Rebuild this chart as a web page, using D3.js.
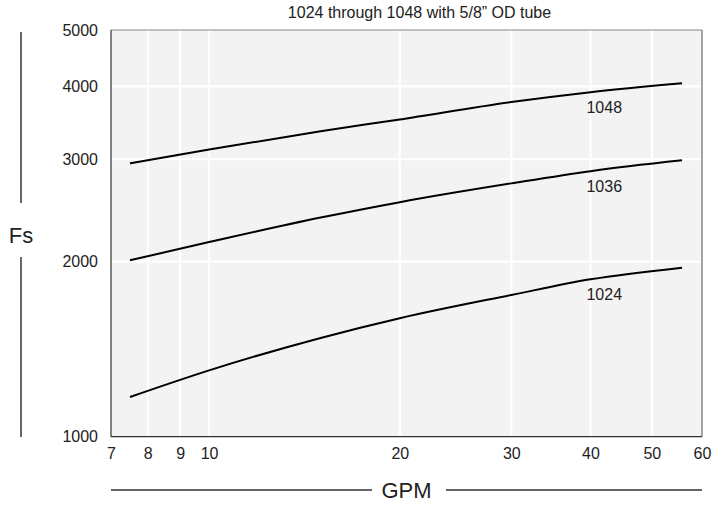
<!DOCTYPE html>
<html>
<head>
<meta charset="utf-8">
<script src="https://cdn.jsdelivr.net/npm/d3@7"></script>
<style>
  html, body { margin: 0; padding: 0; background: #fff; }
  svg { display: block; }
  text { font-family: "Liberation Sans", Arial, sans-serif; fill: #222; }
</style>
</head>
<body>
<svg id="chart" width="714" height="506"></svg>
<script>
const title = "1024 through 1048 with 5/8\u201D OD tube";
const xLabel = "GPM";
const yLabel = "Fs";
const xTicks = [7, 8, 9, 10, 20, 30, 40, 50, 60];
const yTicks = [1000, 2000, 3000, 4000, 5000];
const xGrid = [8, 9, 10, 20, 30, 40, 50];
const yGrid = [2000, 3000, 4000];
const gpm = [7.5, 10, 15, 20, 30, 40, 55.8];
const fs1048 = [2950, 3115, 3350, 3510, 3760, 3910, 4050];
const fs1036 = [2010, 2160, 2380, 2530, 2725, 2860, 2985];
const fs1024 = [1170, 1300, 1478, 1598, 1752, 1864, 1952];
const seriesNames = ["1048", "1036", "1024"];
const labelAt = 40;

const series = [fs1048, fs1036, fs1024].map((vals, i) => ({
  name: seriesNames[i],
  points: gpm.map((g, j) => ({ x: g, y: vals[j] }))
}));

const L = 111, R = 702, T = 30, B = 436.7;
const x = d3.scaleLog().domain([7, 60]).range([L, R]);
const y = d3.scaleLog().domain([1000, 5000]).range([B, T]);

const svg = d3.select("#chart");
const FONT = '"Liberation Sans", Arial, sans-serif';

// plot background
svg.append("rect").attr("x", L).attr("y", T).attr("width", R - L).attr("height", B - T)
  .attr("fill", "#f3f3f3");

// grid
svg.append("g").selectAll("line").data(xGrid).join("line")
  .attr("x1", d => x(d)).attr("x2", d => x(d)).attr("y1", T).attr("y2", B)
  .attr("stroke", "#fff").attr("stroke-width", 2.2);
svg.append("g").selectAll("line").data(yGrid).join("line")
  .attr("x1", L).attr("x2", R).attr("y1", d => y(d)).attr("y2", d => y(d))
  .attr("stroke", "#fff").attr("stroke-width", 2.2);

// frame
svg.append("line").attr("x1", L).attr("x2", R).attr("y1", T).attr("y2", T)
  .attr("stroke", "#888").attr("stroke-width", 1);
svg.append("line").attr("x1", R).attr("x2", R).attr("y1", T).attr("y2", B)
  .attr("stroke", "#888").attr("stroke-width", 1.5);
svg.append("line").attr("x1", L).attr("x2", L).attr("y1", T).attr("y2", B)
  .attr("stroke", "#333").attr("stroke-width", 1.2);
svg.append("line").attr("x1", L).attr("x2", R).attr("y1", B).attr("y2", B)
  .attr("stroke", "#333").attr("stroke-width", 1.2);

// axis tick labels
const xAxis = svg.append("g").attr("transform", `translate(0,${B})`)
  .call(d3.axisBottom(x).tickValues(xTicks).tickFormat(d3.format("d")).tickSize(0).tickPadding(11));
xAxis.select(".domain").remove();
xAxis.selectAll("text").style("font-family", FONT).style("font-size", "16px").attr("fill", "#222");

const yAxis = svg.append("g").attr("transform", `translate(${L},0)`)
  .call(d3.axisLeft(y).tickValues(yTicks).tickFormat(d3.format("d")).tickSize(0).tickPadding(13));
yAxis.select(".domain").remove();
yAxis.selectAll("text").style("font-family", FONT).style("font-size", "16px").attr("fill", "#222");

// curves
const line = d3.line().x(d => x(d.x)).y(d => y(d.y)).curve(d3.curveMonotoneX);
svg.append("g").selectAll("path").data(series).join("path")
  .attr("d", d => line(d.points))
  .attr("fill", "none").attr("stroke", "#000").attr("stroke-width", 2);

// series labels
svg.append("g").selectAll("text").data(series).join("text")
  .attr("x", x(labelAt) - 4)
  .attr("y", d => y(d.points.find(p => p.x === labelAt).y) + 21)
  .attr("font-size", 16)
  .text(d => d.name);

// title
svg.append("text").attr("x", 419.5).attr("y", 18).attr("text-anchor", "middle")
  .attr("font-size", 16).text(title);

// y label with line
svg.append("line").attr("x1", 21).attr("x2", 21).attr("y1", 32).attr("y2", 203)
  .attr("stroke", "#333").attr("stroke-width", 1.5);
svg.append("line").attr("x1", 21).attr("x2", 21).attr("y1", 257).attr("y2", 437)
  .attr("stroke", "#333").attr("stroke-width", 1.5);
svg.append("text").attr("x", 21).attr("y", 243).attr("text-anchor", "middle")
  .attr("font-size", 22).text(yLabel);

// x label with line
svg.append("line").attr("x1", L).attr("x2", 372).attr("y1", 490).attr("y2", 490)
  .attr("stroke", "#333").attr("stroke-width", 1.5);
svg.append("line").attr("x1", 446).attr("x2", R).attr("y1", 490).attr("y2", 490)
  .attr("stroke", "#333").attr("stroke-width", 1.5);
svg.append("text").attr("x", 406.5).attr("y", 498).attr("text-anchor", "middle")
  .attr("font-size", 22).text(xLabel);
</script>
</body>
</html>
